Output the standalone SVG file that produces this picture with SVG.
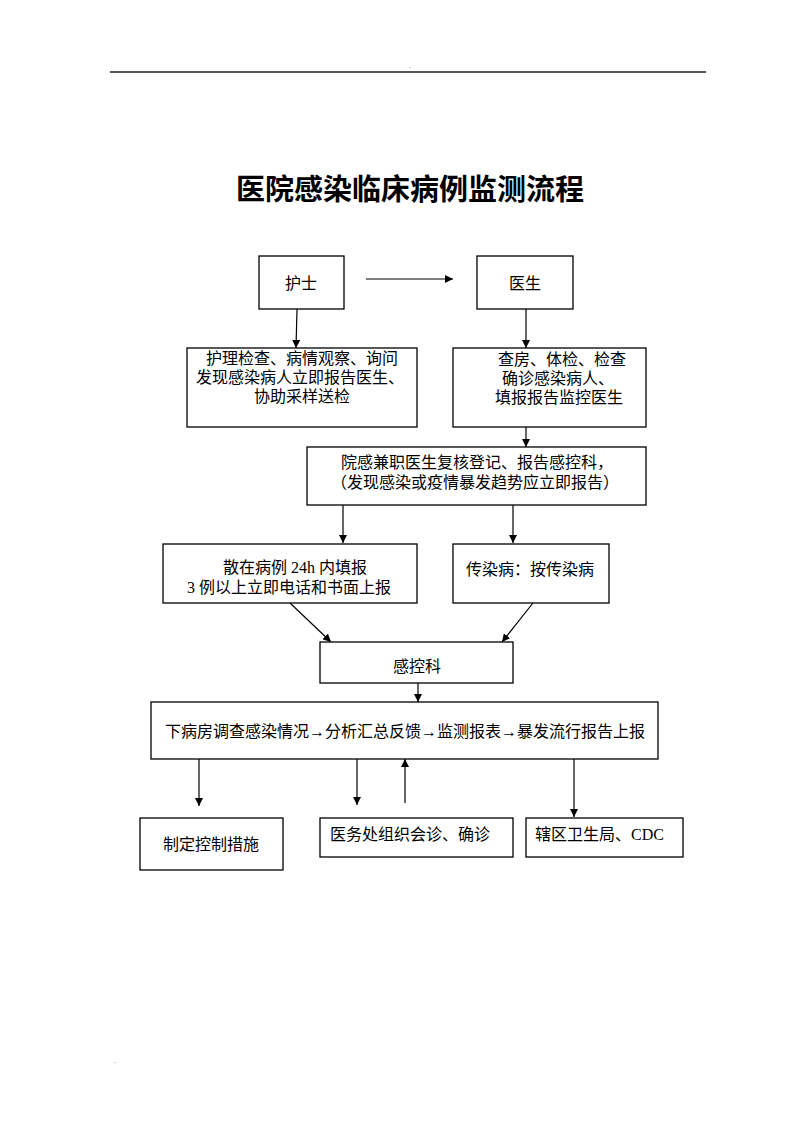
<svg xmlns="http://www.w3.org/2000/svg" width="800" height="1132" viewBox="0 0 800 1132">
<defs>
<marker id="ah" viewBox="0 0 10 10" refX="10" refY="5" markerWidth="8" markerHeight="8" markerUnits="userSpaceOnUse" orient="auto">
<path d="M0,0 L10,5 L0,10 Z" fill="#000"/>
</marker>
<style>
.box{fill:#fff;stroke:#000;stroke-width:1.3}
.t{font-family:"Liberation Serif","Noto Sans CJK SC",serif;font-size:16px;fill:#000}
.c{text-anchor:middle}
.ln{stroke:#000;stroke-width:1.2;fill:none;marker-end:url(#ah)}
</style>
</defs>
<rect width="800" height="1132" fill="#fff"/>
<line x1="110" y1="72" x2="706" y2="72" stroke="#555" stroke-width="2"/>
<text x="410" y="68" font-family="Liberation Serif, serif" font-size="8" fill="#666" text-anchor="middle">.</text>
<text x="115" y="1063" font-family="Liberation Serif, serif" font-size="8" fill="#666" text-anchor="middle">.</text>
<text x="410" y="200" font-family="Liberation Serif,'Noto Sans CJK SC',serif" font-size="29" font-weight="bold" text-anchor="middle">医院感染临床病例监测流程</text>

<g id="connectors">
<line class="ln" x1="366" y1="279" x2="453" y2="279"/>
<line class="ln" x1="297" y1="309" x2="296" y2="348"/>
<line class="ln" x1="526" y1="309" x2="526" y2="348"/>
<line class="ln" x1="526" y1="427" x2="526" y2="447"/>
<line class="ln" x1="343" y1="505" x2="343" y2="543"/>
<line class="ln" x1="513" y1="505" x2="513" y2="543"/>
<line class="ln" x1="290" y1="603" x2="331" y2="642"/>
<line class="ln" x1="533" y1="603" x2="502" y2="642"/>
<line class="ln" x1="418" y1="683" x2="418" y2="702"/>
<line class="ln" x1="199" y1="759" x2="199" y2="806"/>
<line class="ln" x1="357" y1="759" x2="357" y2="805"/>
<line class="ln" x1="405" y1="803" x2="405" y2="759"/>
<line class="ln" x1="574" y1="759" x2="574" y2="817"/>
</g>

<g id="nurse">
<rect class="box" x="259" y="256" width="85" height="53"/>
<text class="t c" x="301" y="289" font-size="18">护士</text>
</g>
<g id="doctor">
<rect class="box" x="477" y="256" width="96" height="53"/>
<text class="t c" x="525" y="289" font-size="18">医生</text>
</g>
<g id="nurse-tasks">
<rect class="box" x="187" y="348" width="230" height="79"/>
<text class="t c" x="302" y="364">护理检查、病情观察、询问</text>
<text class="t c" x="300" y="383">发现感染病人立即报告医生、</text>
<text class="t c" x="302" y="402">协助采样送检</text>
</g>
<g id="doctor-tasks">
<rect class="box" x="453" y="348" width="193" height="79"/>
<text class="t" x="498" y="365">查房、体检、检查</text>
<text class="t" x="502" y="384">确诊感染病人、</text>
<text class="t" x="495" y="403">填报报告监控医生</text>
</g>
<g id="review">
<rect class="box" x="307" y="447" width="339" height="58"/>
<text class="t c" x="477" y="468">院感兼职医生复核登记、报告感控科，</text>
<text class="t c" x="475" y="488">（发现感染或疫情暴发趋势应立即报告）</text>
</g>
<g id="sporadic">
<rect class="box" x="163" y="544" width="254" height="59"/>
<text class="t c" x="295" y="573">散在病例 24h 内填报</text>
<text class="t c" x="289" y="593">3 例以上立即电话和书面上报</text>
</g>
<g id="infectious">
<rect class="box" x="453" y="544" width="156" height="59"/>
<text class="t c" x="530" y="575">传染病：按传染病</text>
</g>
<g id="ic-dept">
<rect class="box" x="320" y="642" width="193" height="41"/>
<text class="t c" x="417" y="672">感控科</text>
</g>
<g id="investigation">
<rect class="box" x="151" y="702" width="507" height="57"/>
<text class="t c" x="405" y="737">下病房调查感染情况→分析汇总反馈→监测报表→暴发流行报告上报</text>
</g>
<g id="control">
<rect class="box" x="140" y="818" width="143" height="52"/>
<text class="t c" x="211" y="850">制定控制措施</text>
</g>
<g id="consult">
<rect class="box" x="320" y="818" width="193" height="39"/>
<text class="t" x="330" y="840">医务处组织会诊、确诊</text>
</g>
<g id="cdc">
<rect class="box" x="526" y="818" width="157" height="39"/>
<text class="t" x="535" y="840">辖区卫生局、CDC</text>
</g>
</svg>
